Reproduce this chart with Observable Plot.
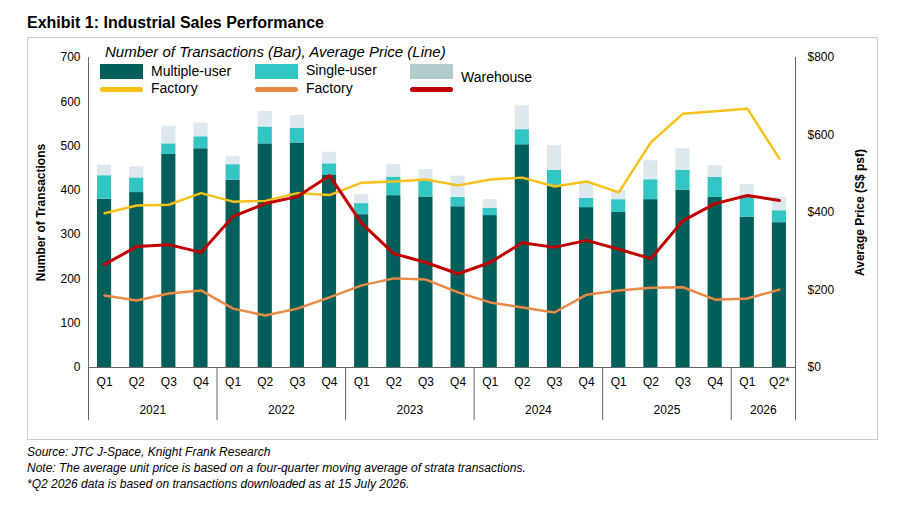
<!DOCTYPE html><html><head><meta charset="utf-8">
<script src="https://cdn.jsdelivr.net/npm/d3@7"></script>
<script src="https://cdn.jsdelivr.net/npm/@observablehq/plot@0.6"></script>
<style>
body{margin:0;font-family:"Liberation Sans",Arial,sans-serif;background:#fff;width:900px;height:507px;position:relative;overflow:hidden}
#title{position:absolute;left:27px;top:14px;font-weight:bold;font-size:16px}
#frame{position:absolute;left:27px;top:37px;width:851px;height:403px;border:1px solid #ccc;box-sizing:border-box}
#chart{position:absolute;left:27px;top:37px}
#legend{position:absolute;left:100px;top:43px;font-size:14px}
.lg{position:absolute;white-space:nowrap;font-size:14px}
.sw{position:absolute}
#foot{position:absolute;left:27px;top:444px;font-size:12px;font-style:italic;line-height:16px}
</style></head><body>
<div id="title">Exhibit 1: Industrial Sales Performance</div>
<div id="frame"></div>
<div id="chart"></div>
<div id="legend"></div>
<div id="foot">Source: JTC J-Space, Knight Frank Research<br>Note: The average unit price is based on a four-quarter moving average of strata transactions.<br>*Q2 2026 data is based on transactions downloaded as at 15 July 2026.</div>
<script>
const quarters=["Q1","Q2","Q3","Q4","Q1","Q2","Q3","Q4","Q1","Q2","Q3","Q4","Q1","Q2","Q3","Q4","Q1","Q2","Q3","Q4","Q1","Q2*"];
const years=["2021","2022","2023","2024","2025","2026"];
const yearCenters=[1.5,5.5,9.5,13.5,17.5,20.5];
const yearBounds=[-0.5,3.5,7.5,11.5,15.5,19.5,21.5];
const multiUser=[380,395,481,494,423,505,507,435,345,388,385,363,343,503,411,361,350,379,400,384,339,327];
const singleUser=[53,33,24,27,35,38,33,25,25,42,35,21,16,34,34,21,29,45,45,45,45,27];
const warehouse=[24,25,40,31,19,35,29,26,20,28,27,48,20,54,56,33,21,43,49,27,29,30];
const priceMulti=[398,418,420,450,428,430,450,445,477,480,485,470,485,490,467,480,452,581,655,661,668,539];
const priceSingle=[186,173,191,199,152,134,152,181,212,230,227,194,168,155,142,188,199,206,207,175,178,201];
const priceWarehouse=[266,312,317,297,390,423,441,495,372,294,271,242,271,322,310,328,305,281,379,423,444,431];

const k=700/800;
const bars=[];
multiUser.forEach((v,i)=>{
  bars.push({i,s:"m",y1:0,y2:v});
  bars.push({i,s:"s",y1:v,y2:v+singleUser[i]});
  bars.push({i,s:"w",y1:v+singleUser[i],y2:v+singleUser[i]+warehouse[i]});
});
const col={m:"#005f5a",s:"#33c4c4",w:"#dde9ee"};
const line=(arr)=>arr.map((p,i)=>({i,p:p*k}));
const idx=d3.range(22);
const w=0.22;
const plot=Plot.plot({
  width:851,height:403,marginTop:20,marginBottom:73,marginLeft:61,marginRight:83,
  style:{fontFamily:"Liberation Sans, Arial, sans-serif",fontSize:"12px",color:"#000",overflow:"visible"},
  x:{domain:[-0.5,21.5],axis:null},
  y:{domain:[0,700],axis:null},
  marks:[
    Plot.rect(bars,{x1:d=>d.i-w,x2:d=>d.i+w,y1:"y1",y2:"y2",fill:d=>col[d.s]}),
    Plot.line(line(priceMulti),{x:"i",y:"p",stroke:"#f7c11a",strokeWidth:2.5}),
    Plot.line(line(priceSingle),{x:"i",y:"p",stroke:"#eb8a45",strokeWidth:2.5}),
    Plot.line(line(priceWarehouse),{x:"i",y:"p",stroke:"#c00000",strokeWidth:3}),
    Plot.axisY({anchor:"left",ticks:d3.range(0,701,100),tickSize:0,tickPadding:8,label:null}),
    Plot.axisY({anchor:"right",ticks:d3.range(0,801,200).map(v=>v*k),tickFormat:v=>"$"+Math.round(v/k),tickSize:0,tickPadding:12,label:null}),
    Plot.ruleX([-0.5,21.5],{y1:0,y2:700,stroke:"#666"}),
    Plot.ruleY([0],{x1:-0.5,x2:21.5,stroke:"#666"}),
    Plot.ruleX(yearBounds,{y1:0,y2:-120,stroke:"#666"}),
    Plot.text(idx,{x:d=>d,y:-34,text:d=>quarters[d],fontSize:12}),
    Plot.text(years,{x:(d,j)=>yearCenters[j],y:-97,text:d=>d,fontSize:12}),
    Plot.text(["Number of Transactions"],{x:-0.5,y:350,dx:-47,rotate:-90,text:d=>d,fontWeight:"bold",fontSize:12}),
    Plot.text(["Average Price (S$ psf)"],{x:21.5,y:350,dx:65,rotate:-90,text:d=>d,fontWeight:"bold",fontSize:12})
  ]
});
document.getElementById("chart").appendChild(plot);
const L=document.getElementById("legend");
L.innerHTML=`<div class="lg" style="left:5px;top:0;font-style:italic;font-size:15px">Number of Transactions (Bar), Average Price (Line)</div>
<div class="sw" style="left:0;top:21px;width:43px;height:15px;background:${col.m}"></div><div class="lg" style="left:51px;top:20px">Multiple-user</div>
<div class="lg" style="left:51px;top:37px">Factory</div>
<div class="sw" style="left:0;top:44px;width:43px;height:5px;border-radius:3px;background:#f7c11a"></div>
<div class="sw" style="left:155px;top:21px;width:43px;height:15px;background:${col.s}"></div><div class="lg" style="left:206px;top:19px">Single-user</div>
<div class="lg" style="left:206px;top:37px">Factory</div>
<div class="sw" style="left:155px;top:44px;width:43px;height:5px;border-radius:3px;background:#eb8a45"></div>
<div class="sw" style="left:310px;top:21px;width:43px;height:15px;background:#b0cccc"></div><div class="lg" style="left:361px;top:26px">Warehouse</div>
<div class="sw" style="left:310px;top:44px;width:43px;height:5px;border-radius:3px;background:#c00000"></div>`;
</script></body></html>
